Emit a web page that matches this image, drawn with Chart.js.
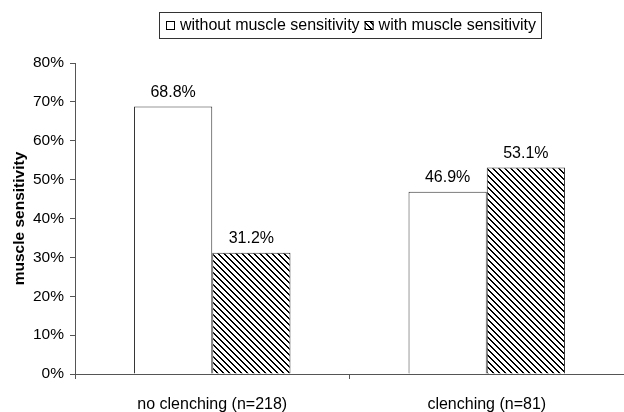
<!DOCTYPE html>
<html>
<head>
<meta charset="utf-8">
<script src="https://cdn.jsdelivr.net/npm/chart.js@4"></script>
<style>
  html, body { margin: 0; padding: 0; background: #fff; }
  #wrap { width: 624px; height: 412px; }
</style>
</head>
<body>
<div id="wrap"><canvas id="MuscleChart" width="624" height="412"></canvas></div>
<script>
// data
var categories = ["no clenching (n=218)", "clenching (n=81)"];
var seriesNames = ["without muscle sensitivity", "with muscle sensitivity"];
var withoutSens = [0.688, 0.469];
var withSens = [0.312, 0.531];
var yTicks = [0, 0.1, 0.2, 0.3, 0.4, 0.5, 0.6, 0.7, 0.8];

var FONT = "'Liberation Sans', Arial, sans-serif";

// hatch pattern (backslash stripes)
function makeHatch() {
    var c = document.createElement('canvas');
    c.width = 6; c.height = 6;
    var g = c.getContext('2d');
    g.fillStyle = '#fff';
    g.fillRect(0, 0, 6, 6);
    g.fillStyle = '#000';
    for (var y = 0; y < 6; y++) {
        for (var x = 0; x < 6; x++) {
            var d = ((x - y) % 6 + 6) % 6;
            if (d === 0 || d === 1) g.fillRect(x, y, 1, 1);
        }
    }
    return g.createPattern(c, 'repeat');
}
var hatch = makeHatch();

// value labels above the bars
var barLabels = {
    id: 'barLabels',
    afterDatasetsDraw: function(chart) {
        var ctx = chart.ctx;
        ctx.save();
        ctx.font = '16px ' + FONT;
        ctx.fillStyle = '#000';
        ctx.textAlign = 'center';
        ctx.textBaseline = 'alphabetic';
        chart.data.datasets.forEach(function(ds, i) {
            chart.getDatasetMeta(i).data.forEach(function(bar, j) {
                ctx.fillText((ds.data[j] * 100).toFixed(1) + '%', bar.x, bar.y - 10);
            });
        });
        ctx.restore();
    }
};

// boxed legend at top
var boxLegend = {
    id: 'boxLegend',
    afterDraw: function(chart) {
        var ctx = chart.ctx;
        var left = 159, top = 12, right = 541, bottom = 38;
        var mid = (top + bottom) / 2 + 1;
        ctx.save();
        ctx.strokeStyle = '#333';
        ctx.lineWidth = 1;
        ctx.strokeRect(left + 0.5, top + 0.5, right - left, bottom - top);
        ctx.font = '16px ' + FONT;
        ctx.textBaseline = 'middle';
        var x = left + 7;
        var fills = ['#fff', hatch];
        for (var i = 0; i < seriesNames.length; i++) {
            ctx.fillStyle = fills[i];
            ctx.fillRect(x, mid - 5, 9, 9);
            ctx.strokeStyle = '#000';
            ctx.strokeRect(x + 0.5, mid - 4.5, 8, 8);
            x += 14;
            ctx.fillStyle = '#000';
            ctx.fillText(seriesNames[i], x, mid);
            x += ctx.measureText(seriesNames[i]).width + 5;
        }
        ctx.restore();
    }
};

new Chart(document.getElementById('MuscleChart'), {
    type: 'bar',
    data: {
        labels: categories,
        datasets: [{
            label: seriesNames[0],
            data: withoutSens,
            backgroundColor: '#fff',
            borderColor: '#333',
            borderWidth: 1,
            barPercentage: 1,
            categoryPercentage: 0.57
        }, {
            label: seriesNames[1],
            data: withSens,
            backgroundColor: hatch,
            borderColor: '#333',
            borderWidth: 1,
            barPercentage: 1,
            categoryPercentage: 0.57
        }]
    },
    options: {
        responsive: false,
        animation: false,
        layout: { padding: { top: 63, right: 0, bottom: 0, left: 0 } },
        plugins: {
            legend: { display: false },
            tooltip: { enabled: false }
        },
        scales: {
            x: {
                grid: { offset: true, drawOnChartArea: false, tickLength: 5, color: '#555' },
                border: { color: '#555' },
                ticks: { color: '#000', font: { family: FONT, size: 16 }, padding: 16, maxRotation: 0 },
                afterFit: function(s) { s.height = 38; }
            },
            y: {
                min: 0,
                max: 0.8,
                afterBuildTicks: function(s) { s.ticks = yTicks.map(function(v) { return { value: v }; }); },
                grid: { drawOnChartArea: false, tickLength: 5, color: '#555' },
                border: { color: '#555' },
                ticks: {
                    color: '#000',
                    font: { family: FONT, size: 15.5 },
                    padding: 6,
                    callback: function(v) { return Math.round(v * 100) + '%'; }
                },
                title: {
                    display: true,
                    text: 'muscle sensitivity',
                    color: '#000',
                    font: { family: FONT, size: 15.5, weight: 'bold' },
                    padding: { top: 10, bottom: 4 }
                },
                afterFit: function(s) { s.width = 75; }
            }
        }
    },
    plugins: [barLabels, boxLegend]
});
</script>
</body>
</html>
